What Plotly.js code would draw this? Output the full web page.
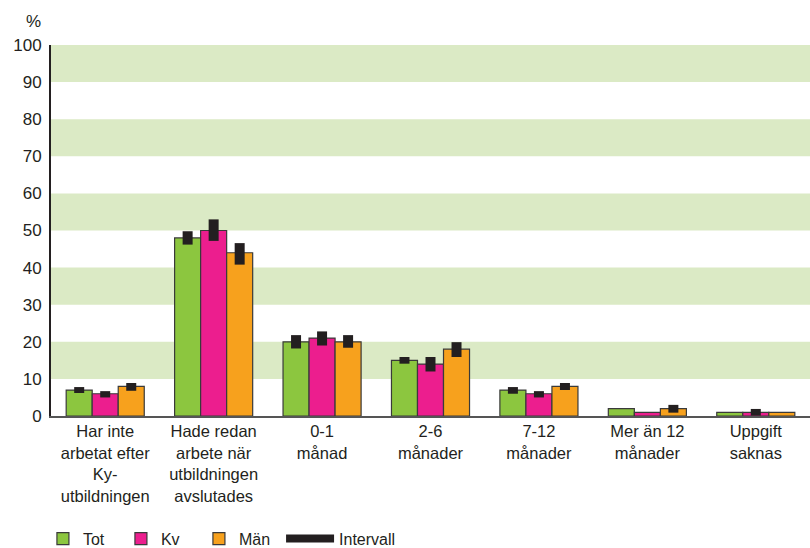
<!DOCTYPE html>
<html><head><meta charset="utf-8">
<script src="https://cdn.plot.ly/plotly-3.0.1.min.js"></script>
<style>body{margin:0;padding:0;background:#fff}#chart{width:810px;height:548px}</style>
</head><body><div id="chart"></div>
<script>
const categories = [
  "Har inte<br>arbetat efter<br>Ky-<br>utbildningen",
  "Hade redan<br>arbete när<br>utbildningen<br>avslutades",
  "0-1<br>månad",
  "2-6<br>månader",
  "7-12<br>månader",
  "Mer än 12<br>månader",
  "Uppgift<br>saknas"
];
const totValues = [7, 48, 20, 15, 7, 2, 1];
const kvValues  = [6, 50, 21, 14, 6, 1, 1];
const manValues = [8, 44, 20, 18, 8, 2, 1];
const totLow  = [6.2, 46.2, 18.2, 14.1, 6.0, null, null];
const totHigh = [7.8, 49.8, 21.8, 15.9, 7.8, null, null];
const kvLow   = [5.0, 47.2, 19.0, 12.0, 5.0, null, 0.1];
const kvHigh  = [6.7, 53.0, 22.8, 15.9, 6.7, null, 1.9];
const manLow  = [6.8, 40.8, 18.4, 15.9, 7.0, 0.9, null];
const manHigh = [8.9, 46.6, 21.8, 19.9, 8.9, 3.0, null];
const yTicks = [0,10,20,30,40,50,60,70,80,90,100];
const bands = [[10,20],[30,40],[50,60],[70,80],[90,100]];

const intervalColor = '#231f20';
function errs(vals, lo, hi){
  return {
    type:'data', symmetric:false,
    array: vals.map((v,i)=> hi[i]==null ? 0 : hi[i]-v),
    arrayminus: vals.map((v,i)=> lo[i]==null ? 0 : v-lo[i]),
    visible:true, color:intervalColor, thickness:10, width:0
  };
}
function barTrace(name, vals, lo, hi, color){
  return {type:'bar', name:name, x:categories, y:vals,
    marker:{color:color, line:{color:'#3a3a3a', width:1.2}},
    error_y: errs(vals, lo, hi), hoverinfo:'y'};
}
const traces = [
  barTrace('Tot', totValues, totLow, totHigh, '#8cc63f'),
  barTrace('Kv', kvValues, kvLow, kvHigh, '#ec1e8e'),
  barTrace('Män', manValues, manLow, manHigh, '#f7a11d'),
  {type:'scatter', name:'Intervall', x:[null], y:[null], mode:'lines', legend:'legend2',
   line:{color:intervalColor, width:8}}
];
const shapes = bands.map(b=>({type:'rect', xref:'paper', yref:'y', x0:0, x1:1, y0:b[0], y1:b[1],
  fillcolor:'#dbeac5', line:{width:0}, layer:'below'}));

const legY = 0.048;
const layout = {
  width:810, height:548,
  margin:{l:51, r:0, t:45, b:132},
  paper_bgcolor:'#fff', plot_bgcolor:'#fff',
  font:{family:'"Liberation Sans", Arial, sans-serif', size:16, color:'#231f20'},
  barmode:'group', bargap:0.28, bargroupgap:0,
  showlegend:true,
  legend:{orientation:'h', xref:'container', yref:'container', x:0.053, xanchor:'left', y:legY, yanchor:'top',
    entrywidth:33, entrywidthmode:'pixels', font:{size:16}, traceorder:'normal'},
  legend2:{orientation:'h', xref:'container', yref:'container', x:0.347, xanchor:'left', y:legY, yanchor:'top',
    itemwidth:48, font:{size:16}},
  xaxis:{showgrid:false, showline:true, linecolor:'#555', linewidth:1.5, ticks:'',
    tickfont:{size:16.5}, fixedrange:true, zeroline:false, automargin:false},
  yaxis:{range:[0,100], tickvals:yTicks, showgrid:false, showline:true, linecolor:'#231f20', linewidth:2,
    ticks:'', tickfont:{size:17}, zeroline:false, fixedrange:true, ticklabelstandoff:4, automargin:false},
  shapes:shapes,
  annotations:[{text:'%', xref:'paper', yref:'paper', x:-0.01, y:1.0, xanchor:'right', yanchor:'bottom',
    yshift:12, showarrow:false, font:{size:17}}]
};
Plotly.newPlot('chart', traces, layout, {displayModeBar:false, staticPlot:true});
</script></body></html>
